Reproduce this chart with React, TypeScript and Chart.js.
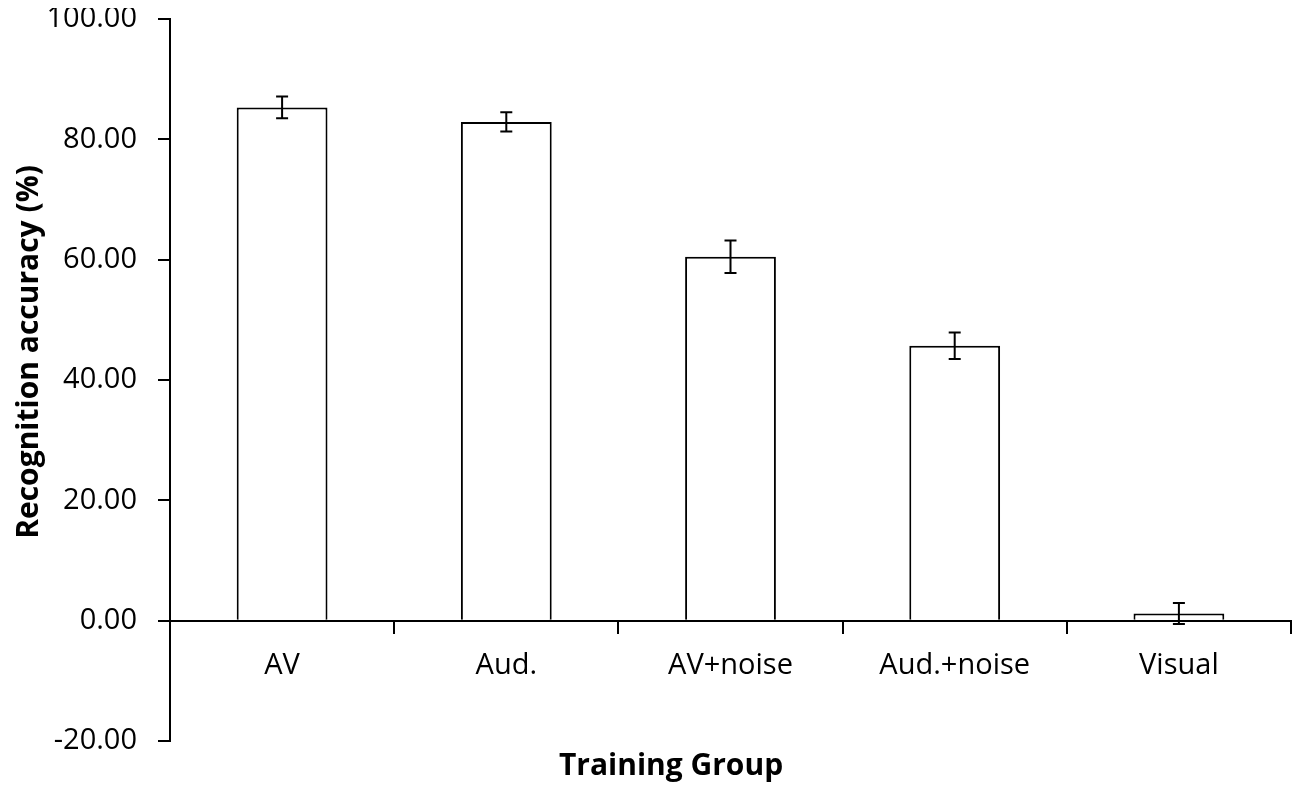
import { useEffect, useRef } from 'react';
import { Chart, registerables } from 'chart.js';

Chart.register(...registerables);

const groups = ['AV', 'Aud.', 'AV+noise', 'Aud.+noise', 'Visual'];
const accuracy = [85.3, 82.9, 60.5, 45.7, 1.2];
const errors = [1.8, 1.6, 2.7, 2.2, 1.75];
const yTicks = [-20, 0, 20, 40, 60, 80, 100];

const FONT = '"Open Sans", "Noto Sans", sans-serif';

const errorBars = {
  id: 'errorBars',
  afterDatasetsDraw(chart: any) {
    const { ctx } = chart;
    const y = chart.scales.y;
    const meta = chart.getDatasetMeta(0);
    ctx.save();
    ctx.strokeStyle = '#000';
    ctx.lineWidth = 2;
    meta.data.forEach((bar: any, i: number) => {
      const top = y.getPixelForValue(accuracy[i] + errors[i]);
      const bot = y.getPixelForValue(accuracy[i] - errors[i]);
      const cap = 6;
      ctx.beginPath();
      ctx.moveTo(bar.x, top);
      ctx.lineTo(bar.x, bot);
      ctx.moveTo(bar.x - cap, top);
      ctx.lineTo(bar.x + cap, top);
      ctx.moveTo(bar.x - cap, bot);
      ctx.lineTo(bar.x + cap, bot);
      ctx.stroke();
    });
    ctx.restore();
  },
};

const axisTitles = {
  id: 'axisTitles',
  afterDraw(chart: any) {
    const { ctx } = chart;
    ctx.save();
    ctx.fillStyle = '#000';
    ctx.font = `bold 30px ${FONT}`;
    ctx.textAlign = 'center';
    ctx.textBaseline = 'alphabetic';
    ctx.fillText('Training Group', 671, 775);
    ctx.translate(29, 352);
    ctx.rotate(-Math.PI / 2);
    ctx.textBaseline = 'middle';
    ctx.fillText('Recognition accuracy (%)', 0, 0);
    ctx.restore();
  },
};

export default function App() {
  const ref = useRef<HTMLCanvasElement>(null);
  const chartRef = useRef<Chart | null>(null);

  useEffect(() => {
    if (!ref.current) return;
    chartRef.current?.destroy();
    chartRef.current = new Chart(ref.current, {
      type: 'bar',
      data: {
        labels: groups,
        datasets: [{
          data: accuracy,
          backgroundColor: '#fff',
          borderColor: '#000',
          borderWidth: 2,
          categoryPercentage: 1,
          barPercentage: 0.405,
        }],
      },
      options: {
        responsive: true, maintainAspectRatio: false, animation: false,
        layout: { padding: { top: 0, right: 9, bottom: 49, left: 0 } },
        plugins: { legend: { display: false }, tooltip: { enabled: false } },
        scales: {
          x: {
            position: { y: 0 } as any,
            grid: { drawOnChartArea: false, tickLength: 12, color: '#000', lineWidth: 2, offset: true },
            border: { color: '#000', width: 2 },
            ticks: { color: '#000', font: { family: FONT, size: 29 }, padding: 16 },
          },
          y: {
            min: -20, max: 100,
            afterFit: (s: any) => { s.width = 170; s.paddingTop = 19; },
            afterBuildTicks: (s: any) => { s.ticks = yTicks.map((v) => ({ value: v })); },
            grid: { drawOnChartArea: false, tickLength: 12, color: '#000', lineWidth: 2 },
            border: { color: '#000', width: 2 },
            ticks: {
              color: '#000', font: { family: FONT, size: 29 }, padding: 21,
              callback: (v: any) => Number(v).toFixed(2),
            },
          },
        },
      },
      plugins: [errorBars, axisTitles],
    });
    return () => { chartRef.current?.destroy(); };
  }, []);

  return (
    <div style={{ width: 1300, height: 790, margin: -8, position: 'relative' }}>
      <canvas ref={ref} />
    </div>
  );
}
